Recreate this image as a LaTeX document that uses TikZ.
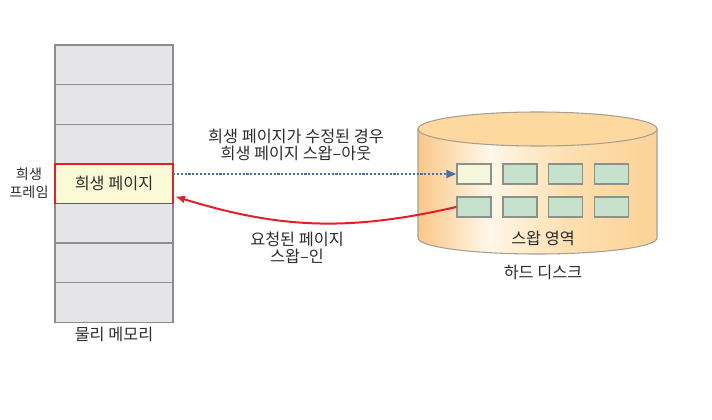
\documentclass[tikz,border=0pt]{standalone}
\usepackage{fontspec}
\setmainfont{Noto Sans CJK KR}
\usepackage{tikz}
\usetikzlibrary{positioning, arrows.meta}
\definecolor{MemFill}{RGB}{229,229,232}
\definecolor{MemLine}{RGB}{140,140,142}
\definecolor{VictimFill}{RGB}{250,250,214}
\definecolor{VRed}{RGB}{226,32,40}
\definecolor{SwapBlue}{RGB}{72,112,165}
\definecolor{SwapFill}{RGB}{198,226,205}
\definecolor{FirstFill}{RGB}{245,247,218}
\definecolor{SwapLine}{RGB}{138,146,140}
\definecolor{DiskEdge}{RGB}{250,200,136}
\definecolor{DiskLight}{RGB}{255,247,232}
\definecolor{DiskMid}{RGB}{253,224,176}
\definecolor{DiskRight}{RGB}{252,210,150}
\definecolor{DiskTop}{RGB}{253,217,160}
\definecolor{DiskLine}{RGB}{168,158,146}
\definecolor{TextGray}{RGB}{45,45,45}
\pgfdeclarehorizontalshading{diskside}{100bp}{color(0bp)=(DiskEdge);
  color(25bp)=(DiskEdge); color(40bp)=(DiskLight); color(56bp)=(DiskMid);
  color(75bp)=(DiskRight); color(100bp)=(DiskRight)}

\begin{document}
\begin{tikzpicture}[x=0.75pt, y=0.75pt,
    memrow/.style={draw=MemLine, fill=MemFill, line width=0.8pt,
                   minimum width=88.5pt, minimum height=29.7pt,
                   inner sep=0pt, outer sep=0pt},
    victimrow/.style={memrow, draw=VRed, fill=VictimFill, line width=1.1pt},
    swapbox/.style={draw=SwapLine, fill=SwapFill, line width=1.1pt,
                    minimum width=25.5pt, minimum height=15pt, inner sep=0pt},
    lbl/.style={font=\fontsize{12.2}{12.75}\selectfont, text=TextGray,
                align=center, inner sep=0pt}]
  \useasboundingbox (0,0) rectangle (712,419);

  % Physical memory frames
  \node[memrow] (mem1) at (114,354.2) {};
  \foreach \i [remember=\i as \prev (initially 1)] in {2,...,7}
    \node[memrow, below=0pt of mem\prev] (mem\i) {};
  \node[victimrow, lbl] (victim) at (mem4) {희생 페이지};
  \node[lbl, font=\fontsize{10.6}{13.5}\selectfont] (framelbl) at (29,236)
        {희생\\프레임};
  \node[lbl] (memlbl) at (114,85) {물리 메모리};

  % Hard disk (cylinder)
  \shade[shading=diskside] (418,290) -- (418,181)
        arc[start angle=180, end angle=360, x radius=119.5, y radius=16]
        -- (657,290) -- cycle;
  \draw[DiskLine, line width=0.8pt] (418,290) -- (418,181)
        arc[start angle=180, end angle=360, x radius=119.5, y radius=16]
        -- (657,290);
  \draw[DiskLine, line width=0.8pt, fill=DiskTop] (537.5,290)
        ellipse[x radius=119.5, y radius=17];

  % Swap area blocks
  \foreach \c/\x in {1/474, 2/520, 3/565.5, 4/611.5} {
    \node[swapbox] (swa\c) at (\x,245) {};
    \node[swapbox] (swb\c) at (\x,212) {};
  }
  \node[swapbox, fill=FirstFill] at (swa1) {};
  \node[lbl] (swaplbl) at (543,181) {스왑 영역};
  \node[lbl] (disklbl) at (543,147) {하드 디스크};

  % Swap-out (dotted) and swap-in (red)
  \draw[SwapBlue, line width=1.6pt, dash pattern=on 1.6pt off 1.3pt,
        -{Triangle[length=7.5pt, width=6pt]}]
        (victim.east |- swa1.west) -- (swa1.west);
  \node[lbl] (outlbl) at (296,274.5)
        {희생 페이지가 수정된 경우\\희생 페이지 스왑–아웃};

  \draw[VRed, line width=1.5pt, -{Latex[length=7.5pt, width=6pt]}]
        (swb1.west) to[bend left=15] ([xshift=1.5pt, yshift=5.25pt]victim.south east);
  \node[lbl] (inlbl) at (297,171.5) {요청된 페이지\\스왑–인};
\end{tikzpicture}
\end{document}
